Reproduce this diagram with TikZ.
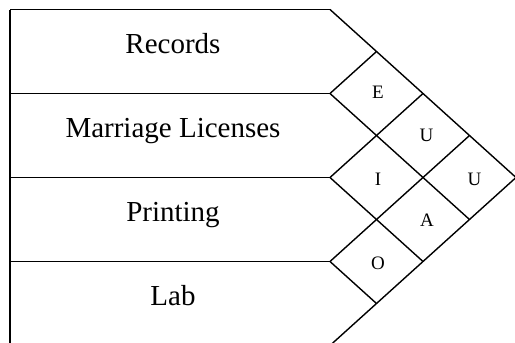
\documentclass[tikz,border=0pt]{standalone}
\usepackage{fontspec}
\setmainfont{Liberation Serif}
\tikzset{
  chartline/.style={line width=1.4pt, line join=miter, line cap=butt},
  rowtext/.style={anchor=base, inner sep=0pt, font=\fontsize{29}{34}\selectfont},
  reltext/.style={anchor=base, inner sep=0pt, font=\fontsize{19}{22}\selectfont},
}
\begin{document}
\begin{tikzpicture}[x=1pt,y=-1pt]
\useasboundingbox (0,0) rectangle (515,343);
% row boundary points
\foreach \k in {0,...,4}{
  \coordinate (l\k) at (10,{9.5+84*\k});
  \coordinate (p\k) at (330,{9.5+84*\k});
}
% rows
\draw[chartline] (l0) -- (l4);
\foreach \k in {0,...,4}{ \draw[chartline] (l\k) -- (p\k); }
% diagonal lattice
\foreach \k in {0,...,3}{
  \draw[chartline] (p\k) -- ++({46.5*(4-\k)},{42*(4-\k)});
}
\foreach \k in {1,...,4}{
  \draw[chartline] (p\k) -- ++({46.5*\k},{-42*\k});
}
% row names
\node[rowtext] (r1) at (173,53.3) {Records};
\node[rowtext] (r2) at (173,137.3) {Marriage Licenses};
\node[rowtext] (r3) at (173,221.3) {Printing};
\node[rowtext] (r4) at (173,305.3) {Lab};
% relationship codes
\node[reltext] (e12) at (378,98.3) {E};
\node[reltext] (u13) at (426.5,141.7) {U};
\node[reltext] (i23) at (378,185.8) {I};
\node[reltext] (u14) at (474.5,185.8) {U};
\node[reltext] (a24) at (427,226.7) {A};
\node[reltext] (o34) at (378,269.2) {O};
\end{tikzpicture}
\end{document}
